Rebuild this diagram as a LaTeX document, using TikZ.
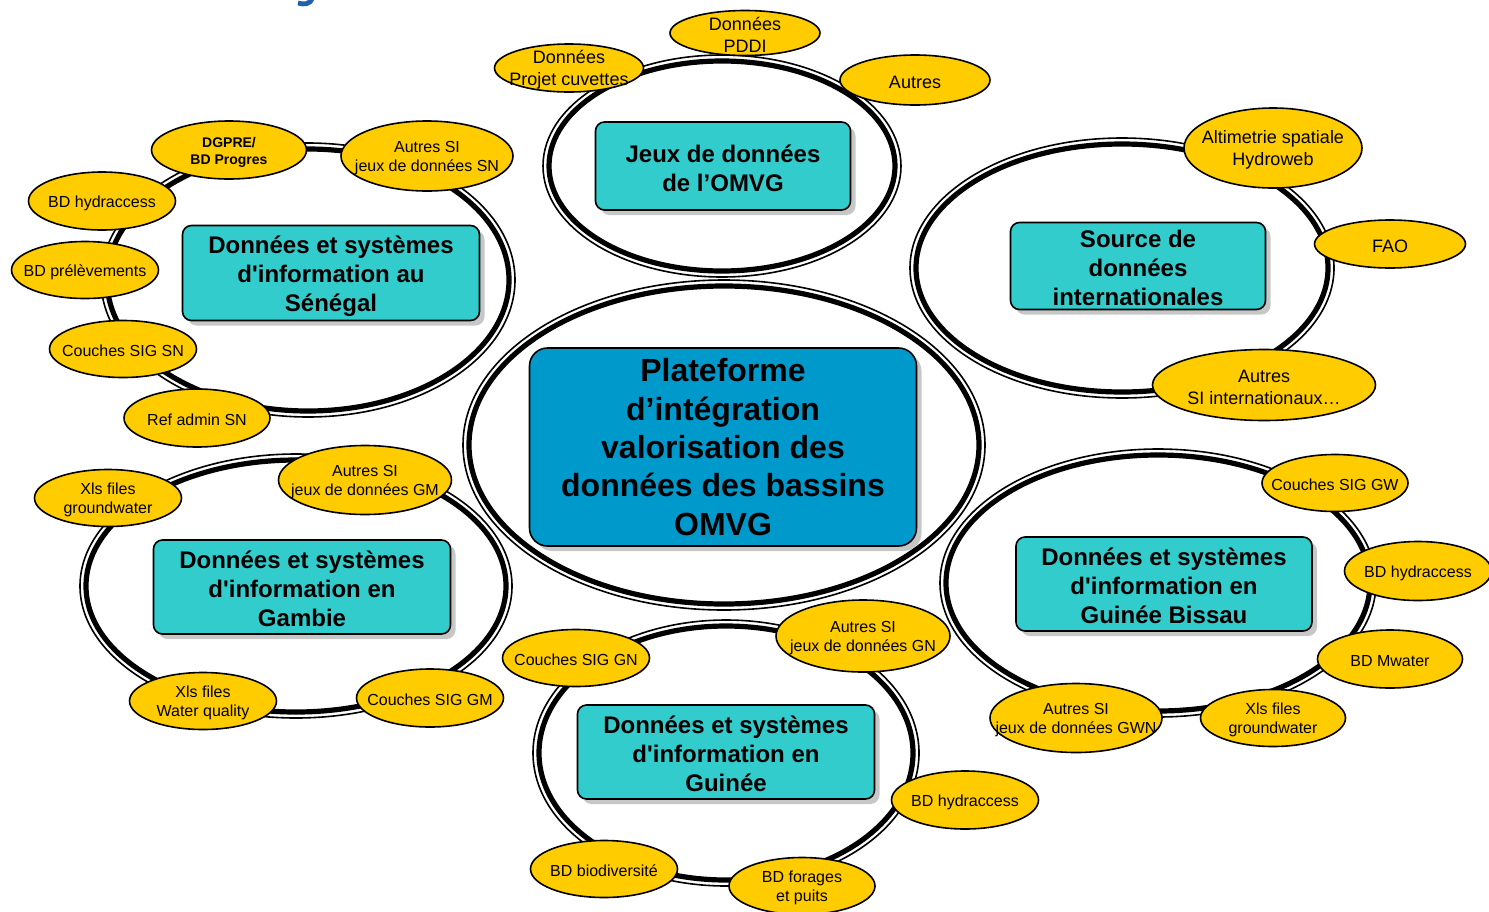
\documentclass[tikz,border=0pt]{standalone}
\usepackage{fontspec}
\setmainfont{Liberation Sans}
\usetikzlibrary{shapes.geometric,shadows}
\definecolor{tealbox}{HTML}{33CCCC}
\definecolor{bluebox}{HTML}{0099CC}
\definecolor{goldlab}{HTML}{FFCC00}
\definecolor{titleblue}{HTML}{1F5FB0}
\tikzset{
  ringthin/.style={ellipse, draw=black, line width=0.8pt, inner sep=0pt},
  ringthick/.style={ellipse, draw=black, line width=2.6pt, inner sep=0pt},
  sz/.style 2 args={minimum width=#1*0.5pt, minimum height=#2*0.5pt},
  boxshadow/.style={drop shadow={shadow xshift=2.5pt, shadow yshift=-2.5pt, fill=black!22, opacity=1}},
  infobox/.style={draw=black, line width=0.8pt, fill=tealbox, rounded corners=4.5pt,
    inner sep=0pt, boxshadow},
  mainbox/.style={infobox, fill=bluebox, rounded corners=9pt},
  boxtxt/.style={align=center, inner sep=0pt, yshift=-1pt, font=\bfseries\fontsize{12}{14.5}\selectfont},
  maintxt/.style={align=center, inner sep=0pt, font=\bfseries\fontsize{16}{19.2}\selectfont},
  lab/.style={ellipse, draw=black, line width=0.8pt, fill=goldlab, inner sep=0pt},
  labtxt/.style={align=center, inner sep=0pt, yshift=-1pt, font=\fontsize{8}{9.8}\selectfont},
  labtxtbig/.style={labtxt, font=\fontsize{9}{11}\selectfont},
  labtxtbold/.style={labtxt, font=\bfseries\fontsize{7}{8.5}\selectfont},
}
\newcommand\myring[4]{%
  \node[ringthin, minimum width=#3*1pt, minimum height=#4*1pt] (#1o) at #2 {};
  \node[ringthick, minimum width=(#3-6)*1pt, minimum height=(#4-6)*1pt] (#1) at #2 {};}
\newcommand\aps{\textquotesingle}
\begin{document}
\begin{tikzpicture}[x=0.5pt,y=-0.5pt]
\useasboundingbox (0,0) rectangle (1489,911);
% fragment of cut-off title
\draw[titleblue, line width=2.4pt] (312,-1) .. controls (310,4) and (304,5) .. (298,3);
% rings
\myring{rOMVG}{(722,166)}{179}{111}
\myring{rSN}{(308,280)}{207}{137}
\myring{rMain}{(724,445)}{261}{165}
\myring{rInt}{(1122,268)}{212}{130}
\myring{rGM}{(296,586)}{216}{132}
\myring{rGN}{(726,753)}{193}{133}
\myring{rGB}{(1158,583)}{218}{134}
% boxes
\node[infobox, sz={255}{88}, label={[boxtxt]center:Jeux de données\\de l’OMVG}] (bOMVG) at (723,166) {};
\node[infobox, sz={297}{95}, label={[boxtxt, yshift=-0.6pt]center:Données et systèmes\\d\aps information au\\Sénégal}] (bSN) at (331,273) {};
\node[mainbox, sz={387}{198}, label={[maintxt]center:Plateforme\\d’intégration\\valorisation des\\données des bassins\\OMVG}] (bMain) at (723,447) {};
\node[infobox, sz={255}{87}, label={[boxtxt]center:Source de\\données\\internationales}] (bInt) at (1138,266) {};
\node[infobox, sz={297}{94}, label={[boxtxt]center:Données et systèmes\\d\aps information en\\Gambie}] (bGM) at (302,587) {};
\node[infobox, sz={297}{94}, label={[boxtxt]center:Données et systèmes\\d\aps information en\\Guinée}] (bGN) at (726,752) {};
\node[infobox, sz={296}{94}, label={[boxtxt]center:Données et systèmes\\d\aps information en\\Guinée Bissau}] (bGB) at (1164,584) {};
% OMVG labels
\node[lab, sz={150}{45}, label={[labtxtbig]center:Données\\PDDI}] (oPDDI) at (745,33) {};
\node[lab, sz={149}{48}, label={[labtxtbig]center:Données\\Projet cuvettes}] (oCuv) at (569,68) {};
\node[lab, sz={150}{50}, label={[labtxtbig]center:Autres}] (oAut) at (915,80) {};
% Senegal labels
\node[lab, sz={155}{58}, label={[labtxtbold]center:DGPRE/\\BD Progres}] (sDG) at (229,150) {};
\node[lab, sz={172}{70}, label={[labtxt]center:Autres SI\\jeux de données SN}] (sAut) at (427,156) {};
\node[lab, sz={147}{58}, label={[labtxt]center:BD hydraccess}] (sHyd) at (102,201) {};
\node[lab, sz={147}{57}, label={[labtxt]center:BD prélèvements}] (sPre) at (85,270) {};
\node[lab, sz={147}{57}, label={[labtxt]center:Couches SIG SN}] (sSIG) at (123,349) {};
\node[lab, sz={146}{58}, label={[labtxt]center:Ref admin SN}] (sRef) at (197,418) {};
% International labels
\node[lab, sz={178}{80}, label={[labtxtbig]center:Altimetrie spatiale\\Hydroweb}] (iAlt) at (1273,148) {};
\node[lab, sz={151}{48}, label={[labtxtbig]center:FAO}] (iFAO) at (1390,244) {};
\node[lab, sz={223}{71}, label={[labtxtbig]center:Autres\\SI internationaux…}] (iAut) at (1264,385) {};
% Gambia labels
\node[lab, sz={147}{57}, label={[labtxt]center:Xls files\\groundwater}] (gmXg) at (108,498) {};
\node[lab, sz={173}{69}, label={[labtxt]center:Autres SI\\jeux de données GM}] (gmAut) at (365,480) {};
\node[lab, sz={147}{57}, label={[labtxt]center:Xls files\\Water quality}] (gmXw) at (203,701) {};
\node[lab, sz={147}{58}, label={[labtxt]center:Couches SIG GM}] (gmSIG) at (430,698) {};
% Guinea labels
\node[lab, sz={147}{57}, label={[labtxt]center:Couches SIG GN}] (gnSIG) at (576,658) {};
\node[lab, sz={174}{72}, label={[labtxt]center:Autres SI\\jeux de données GN}] (gnAut) at (863,636) {};
\node[lab, sz={147}{58}, label={[labtxt]center:BD hydraccess}] (gnHyd) at (965,800) {};
\node[lab, sz={147}{57}, label={[labtxt]center:BD biodiversité}] (gnBio) at (604,869) {};
\node[lab, sz={146}{57}, label={[labtxt]center:BD forages\\et puits}] (gnFor) at (802,886) {};
% Guinea-Bissau labels
\node[lab, sz={146}{57}, label={[labtxt]center:Couches SIG GW}] (gbSIG) at (1335,483) {};
\node[lab, sz={147}{59}, label={[labtxt]center:BD hydraccess}] (gbHyd) at (1418,571) {};
\node[lab, sz={145}{58}, label={[labtxt]center:BD Mwater}] (gbMw) at (1390,659) {};
\node[lab, sz={145}{57}, label={[labtxt]center:Xls files\\groundwater}] (gbXg) at (1273,718) {};
\node[lab, sz={172}{69}, label={[labtxt]center:Autres SI\\jeux de données GWN}] (gbAut) at (1076,718) {};
\end{tikzpicture}
\end{document}
